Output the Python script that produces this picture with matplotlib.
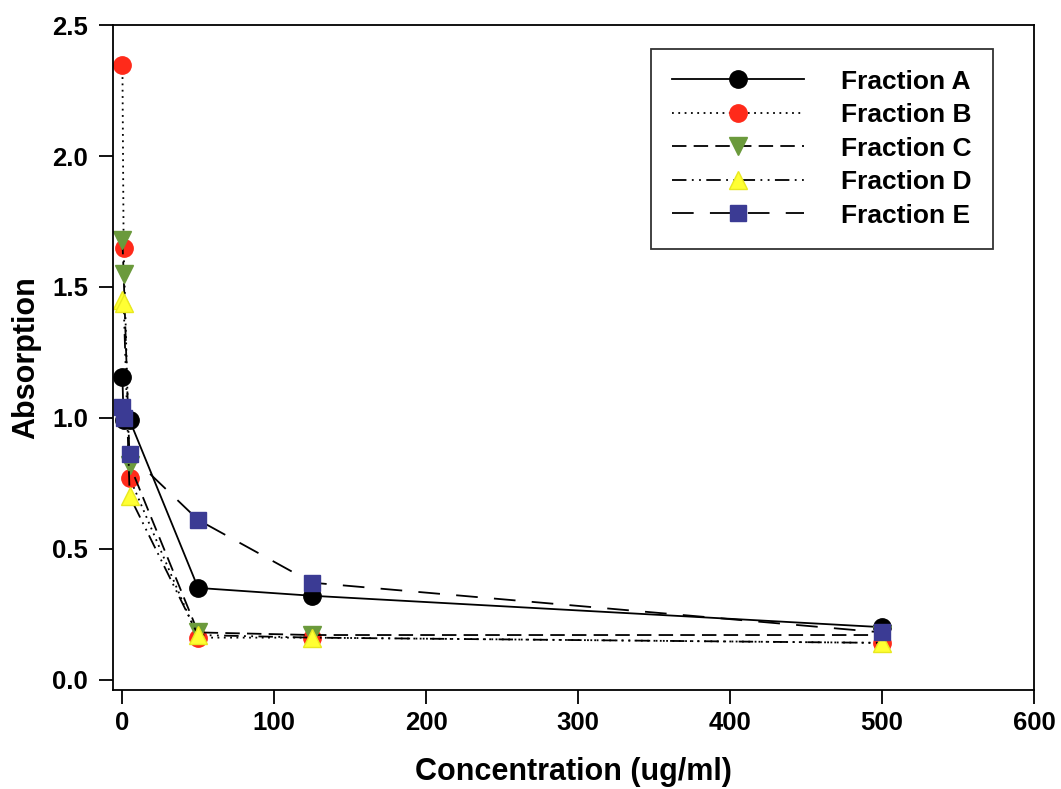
import matplotlib
matplotlib.use("Agg")
import matplotlib.pyplot as plt

# concentrations (ug/ml)
conc = [0.2, 1, 5, 50, 125, 500]

frac_a = [1.155, 0.99, 0.99, 0.35, 0.32, 0.20]
frac_b = [2.35, 1.65, 0.77, 0.16, 0.16, 0.14]
frac_c = [1.68, 1.55, 0.82, 0.18, 0.17, 0.17]
frac_d = [1.45, 1.44, 0.70, 0.17, 0.16, 0.14]
frac_e = [1.04, 1.00, 0.86, 0.61, 0.37, 0.18]

names = ["Fraction A", "Fraction B", "Fraction C", "Fraction D", "Fraction E"]

plt.rcParams['font.family'] = ['Liberation Sans', 'DejaVu Sans']
plt.rcParams['font.weight'] = 'bold'

fig = plt.figure(figsize=(10.61, 7.89), dpi=100)
ax = fig.add_axes([0.1065, 0.1255, 0.868, 0.8425])

lw = 1.3
ms = 12.5
ax.plot(conc, frac_a, color='black', linestyle='-', linewidth=lw,
        marker='o', markersize=ms, markerfacecolor='black', markeredgecolor='black', label=names[0])
ax.plot(conc, frac_b, color='black', linestyle=(0, (1, 2.5)), linewidth=lw,
        marker='o', markersize=ms, markerfacecolor='#ff2a1a', markeredgecolor='#ff2a1a', label=names[1])
ax.plot(conc, frac_c, color='black', linestyle=(0, (8, 4)), linewidth=lw,
        marker='v', markersize=ms + 1, markerfacecolor='#6b9a3c', markeredgecolor='#6b9a3c', label=names[2])
ax.plot(conc, frac_d, color='black', linestyle=(0, (8, 3, 1, 3, 1, 3)), linewidth=lw,
        marker='^', markersize=ms + 1, markerfacecolor='#ffff33', markeredgecolor='#e8e820', label=names[3])
ax.plot(conc, frac_e, color='black', linestyle=(0, (12, 9)), linewidth=lw,
        marker='s', markersize=ms - 1.5, markerfacecolor='#3b3b94', markeredgecolor='#3b3b94', label=names[4])

ax.set_xlim(-6, 600)
ax.set_ylim(-0.04, 2.5)
ax.set_xticks([0, 100, 200, 300, 400, 500, 600])
ax.set_yticks([0.0, 0.5, 1.0, 1.5, 2.0, 2.5])
ax.set_yticklabels(["0.0", "0.5", "1.0", "1.5", "2.0", "2.5"])
ax.tick_params(direction='out', length=10, width=1.3, labelsize=18.5, pad=8)
ax.tick_params(axis='x', pad=5)
for sp in ax.spines.values():
    sp.set_linewidth(1.3)

ax.set_xlabel("Concentration (ug/ml)", fontsize=22, fontweight='bold', labelpad=16)
ax.set_ylabel("Absorption", fontsize=22, fontweight='bold', labelpad=8)

leg = ax.legend(loc='upper right', bbox_to_anchor=(0.9555, 0.965), borderaxespad=0,
                fontsize=19, handlelength=5.0, handletextpad=1.4, borderpad=0.8,
                labelspacing=0.36, fancybox=False, frameon=True, edgecolor='black')
leg.get_frame().set_linewidth(1.3)
for t in leg.get_texts():
    t.set_fontweight('bold')

fig.savefig("out.png", dpi=100)
